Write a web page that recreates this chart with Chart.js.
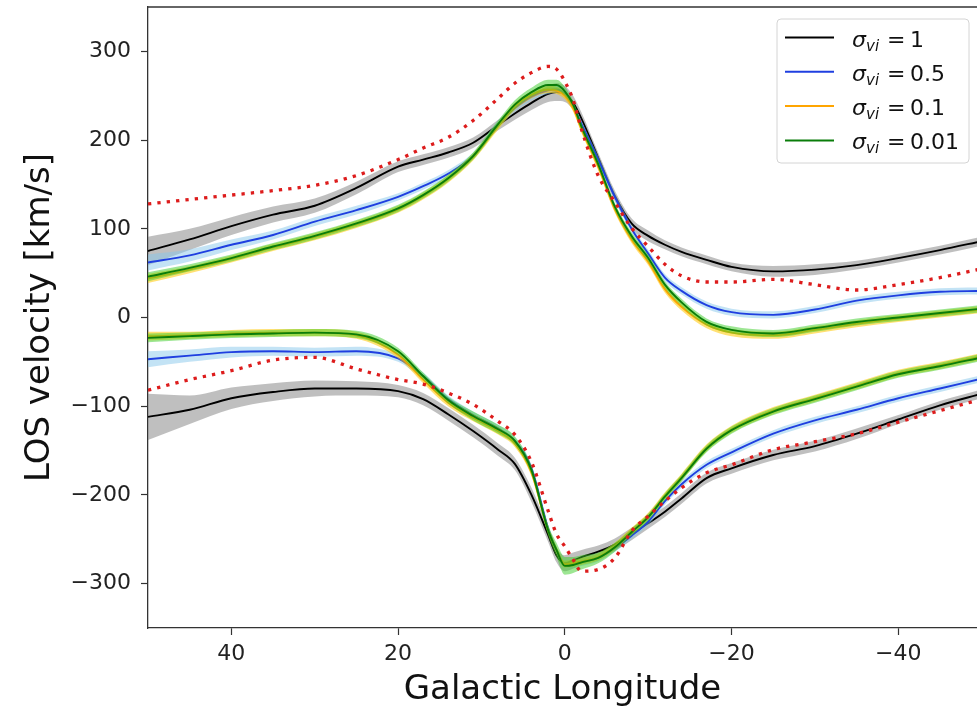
<!DOCTYPE html>
<html>
<head>
<meta charset="utf-8">
<title>LOS velocity vs Galactic longitude</title>
<script src="https://cdn.jsdelivr.net/npm/chart.js@4.4.1/dist/chart.umd.min.js"></script>
<style>
  html, body { margin: 0; padding: 0; background: #fff; }
  #losChart { display: block; }
</style>
</head>
<body>
<canvas id="losChart" width="977" height="711"></canvas>
<script>
// Galactic longitude sample points (deg), left to right as plotted
const lon = [50, 45, 40, 35, 30, 25, 20, 17, 14, 11, 8, 6, 4, 2, 1, 0,
             -1, -2, -4, -6, -8, -10, -12, -14, -17, -20, -25, -30, -35, -40, -45, -50];

// upper (positive velocity) envelope, km/s
const blackUp  = [75, 88, 103, 116, 126, 146, 170, 178, 186, 197, 217, 230, 242, 252, 254, 252,
                  242, 224, 180, 137, 106, 92, 82, 74, 65, 57, 52, 54, 59, 67, 76, 86];
const blueUp   = [62, 70, 82, 93, 108, 121, 136, 148, 162, 182, 218, 236, 249, 256, 257, 252,
                  238, 218, 178, 136, 100, 72, 45, 30, 14, 6, 3, 9, 19, 25, 29, 30];
const orangeUp = [44, 54, 66, 79, 91, 105, 122, 137, 156, 181, 216, 238, 251, 257, 256, 250,
                  236, 212, 170, 122, 88, 63, 32, 12, -8, -17, -20, -14, -7, -1, 4, 9];
const greenUp  = [46, 56, 67, 80, 92, 106, 123, 138, 157, 182, 218, 240, 254, 262, 262, 255,
                  240, 215, 173, 125, 92, 67, 37, 17, -5, -14, -18, -12, -5, 0, 5, 10];
const redUp    = [128, 133, 138, 143, 149, 160, 178, 191, 203, 222, 247, 264, 276, 283, 280, 266,
                  245, 212, 160, 130, 101, 80, 60, 47, 40, 40, 43, 37, 31, 37, 45, 55];

// lower (negative velocity) envelope, km/s
const blackLo  = [-112, -104, -91, -84, -80, -80, -83, -92, -109, -128, -149, -165, -200, -245, -268, -277,
                  -274, -270, -264, -256, -244, -232, -219, -204, -181, -170, -155, -145, -131, -115, -99, -86];
const blueLo   = [-47, -43, -39, -38, -39, -38, -46, -66, -92, -110, -125, -139, -170, -238, -262, -278,
                  -278, -276, -271, -260, -246, -230, -207, -188, -166, -152, -131, -116, -104, -91, -80, -69];
const orangeLo = [-21, -20, -18, -17, -17, -20, -42, -70, -96, -113, -128, -142, -175, -240, -262, -278,
                  -277, -275, -270, -258, -241, -224, -201, -180, -147, -126, -105, -91, -77, -63, -54, -44];
const greenLo  = [-23, -21, -19, -18, -17, -19, -38, -66, -93, -111, -126, -139, -172, -240, -262, -280,
                  -279, -276, -271, -259, -242, -225, -202, -181, -148, -127, -106, -92, -78, -64, -55, -45];
const redLo    = [-82, -70, -60, -48, -45, -58, -70, -75, -85, -98, -117, -132, -163, -218, -244, -258,
                  -273, -286, -284, -271, -241, -224, -207, -192, -175, -166, -149, -140, -131, -118, -105, -92];

// half-width of the shaded scatter bands, km/s
const blackUpSd  = [16, 12, 10, 9, 8, 7, 6, 6, 6, 6, 6, 7, 8, 9, 10, 9, 8, 7, 6, 6, 6, 6, 5, 5, 5, 5, 6, 6, 5, 5, 5, 5];
const blackLoSd  = [26, 16, 12, 10, 9, 8, 7, 7, 7, 7, 7, 7, 8, 8, 8, 9, 9, 8, 7, 7, 7, 6, 6, 6, 6, 6, 6, 6, 6, 5, 5, 5];
const blueSd     = [9, 7, 6, 5, 5, 5, 4, 4, 4, 4, 4, 4, 4, 4, 4, 4, 4, 4, 4, 4, 4, 4, 4, 4, 4, 4, 4, 4, 4, 4, 4, 4];
const orangeSd   = [5, 4, 4, 4, 4, 4, 4, 4, 4, 4, 4, 4, 4, 4, 4, 4, 4, 4, 4, 4, 4, 4, 4, 4, 4, 4, 4, 4, 4, 4, 4, 4];
const greenUpSd  = [5, 4, 4, 4, 4, 4, 4, 4, 4, 4, 4, 5, 5, 6, 6, 5, 4, 4, 4, 4, 4, 4, 4, 4, 4, 4, 4, 4, 4, 4, 4, 4];
const greenLoSd  = [5, 4, 4, 4, 4, 4, 4, 4, 4, 5, 5, 5, 5, 6, 8, 10, 9, 8, 6, 5, 4, 4, 4, 4, 4, 4, 4, 4, 4, 4, 4, 4];

const lonTicks = [40, 20, 0, -20, -40];
const velTicks = [300, 200, 100, 0, -100, -200, -300];
const sigmaValues = ['1', '0.5', '0.1', '0.01'];

const lineColors = ['#000000', '#1f3fe0', '#ffa500', '#0a7d0a'];
const bandColors = ['rgba(128,128,128,0.5)', 'rgba(135,200,235,0.5)', 'rgba(255,200,0,0.55)', 'rgba(60,205,40,0.5)'];

const FONT = 'DejaVu Sans';

function points(vals, sd, sign) {
    return lon.map((x, i) => ({ x: x, y: vals[i] + sign * (sd ? sd[i] : 0) }));
}

const datasets = [];
// one branch = band (two bounds, filled between) + centre line
function addBranch(vals, sd, k, order) {
    const common = { pointRadius: 0, cubicInterpolationMode: 'monotone' };
    datasets.push({ ...common, data: points(vals, sd, 1), borderWidth: 0, fill: false, order: order + 1 });
    datasets.push({ ...common, data: points(vals, sd, -1), borderWidth: 0, fill: '-1',
                    backgroundColor: bandColors[k], order: order + 1 });
    datasets.push({ ...common, data: points(vals, null, 0), borderColor: lineColors[k],
                    borderWidth: 1.9, fill: false, order: order });
}

addBranch(blackUp, blackUpSd, 0, 20);
addBranch(blackLo, blackLoSd, 0, 20);
addBranch(blueUp, blueSd, 1, 16);
addBranch(blueLo, blueSd, 1, 16);
addBranch(orangeUp, orangeSd, 2, 12);
addBranch(orangeLo, orangeSd, 2, 12);
addBranch(greenUp, greenUpSd, 3, 8);
addBranch(greenLo, greenLoSd, 3, 8);

[redUp, redLo].forEach(v => datasets.push({
    data: points(v, null, 0), borderColor: '#dd1c1c', borderWidth: 3.3, borderDash: [3.3, 6.1],
    borderCapStyle: 'butt', pointRadius: 0, cubicInterpolationMode: 'monotone', fill: false, order: 1
}));

const minusFmt = v => (v < 0 ? '\u2212' + Math.abs(v) : String(v));

// top frame line (right edge falls off the canvas)
const frameTop = {
    id: 'frameTop',
    afterDraw(chart) {
        const { ctx, chartArea: a } = chart;
        ctx.save();
        ctx.strokeStyle = '#333';
        ctx.lineWidth = 1.3;
        ctx.beginPath();
        ctx.moveTo(a.left, a.top);
        ctx.lineTo(a.right, a.top);
        ctx.stroke();
        ctx.restore();
    }
};

// legend with sigma_vi labels
const sigmaLegend = {
    id: 'sigmaLegend',
    afterDraw(chart) {
        const { ctx, chartArea: a } = chart;
        const w = 192, h = 144;
        const x0 = a.right - 8 - w, y0 = a.top + 12;
        ctx.save();
        ctx.beginPath();
        ctx.roundRect(x0, y0, w, h, 4);
        ctx.fillStyle = 'rgba(255,255,255,0.8)';
        ctx.fill();
        ctx.strokeStyle = '#d4d4d4';
        ctx.lineWidth = 1;
        ctx.stroke();
        sigmaValues.forEach((val, i) => {
            const y = y0 + 18.5 + i * 34.3;
            ctx.strokeStyle = lineColors[i];
            ctx.lineWidth = 2;
            ctx.beginPath();
            ctx.moveTo(x0 + 8, y);
            ctx.lineTo(x0 + 57, y);
            ctx.stroke();
            ctx.fillStyle = '#111';
            ctx.textBaseline = 'alphabetic';
            ctx.font = 'italic 22px ' + FONT;
            ctx.fillText('σ', x0 + 75, y + 9);
            ctx.font = 'italic 15px ' + FONT;
            ctx.fillText('vi', x0 + 89, y + 13);
            ctx.font = '22px ' + FONT;
            ctx.fillText('=', x0 + 110, y + 9);
            ctx.fillText(val, x0 + 133, y + 9);
        });
        ctx.restore();
    }
};

new Chart(document.getElementById('losChart'), {
    type: 'line',
    data: { datasets: datasets },
    options: {
        responsive: false,
        animation: false,
        events: [],
        layout: { padding: { top: 7, right: 0, bottom: 0, left: 0 } },
        plugins: { legend: { display: false }, tooltip: { enabled: false } },
        scales: {
            x: {
                type: 'linear',
                reverse: true,
                min: -49.44,
                max: 50,
                afterBuildTicks: s => { s.ticks = lonTicks.map(v => ({ value: v })); },
                afterFit: s => { s.height = 83; s.paddingLeft = 0; s.paddingRight = 0; },
                grid: { drawOnChartArea: false, drawTicks: true, tickLength: 7, tickWidth: 1.2, tickColor: '#333' },
                border: { display: true, color: '#333', width: 1.3 },
                ticks: { callback: minusFmt, font: { family: FONT, size: 22 }, color: '#222', padding: 6, maxRotation: 0 },
                title: { display: true, text: 'Galactic Longitude', color: '#111',
                         font: { family: FONT, size: 34 }, padding: { top: 0, bottom: 0 } }
            },
            y: {
                type: 'linear',
                min: -350,
                max: 350,
                afterBuildTicks: s => { s.ticks = velTicks.map(v => ({ value: v })); },
                afterFit: s => { s.width = 148; s.paddingTop = 0; s.paddingBottom = 0; },
                grid: { drawOnChartArea: false, drawTicks: true, tickLength: 7, tickWidth: 1.2, tickColor: '#333' },
                border: { display: true, color: '#333', width: 1.3 },
                ticks: { callback: minusFmt, font: { family: FONT, size: 22 }, color: '#222', padding: 10 },
                title: { display: true, text: 'LOS velocity [km/s]', color: '#111',
                         font: { family: FONT, size: 34 }, padding: { top: 20, bottom: 0 } }
            }
        }
    },
    plugins: [frameTop, sigmaLegend]
});
</script>
</body>
</html>
